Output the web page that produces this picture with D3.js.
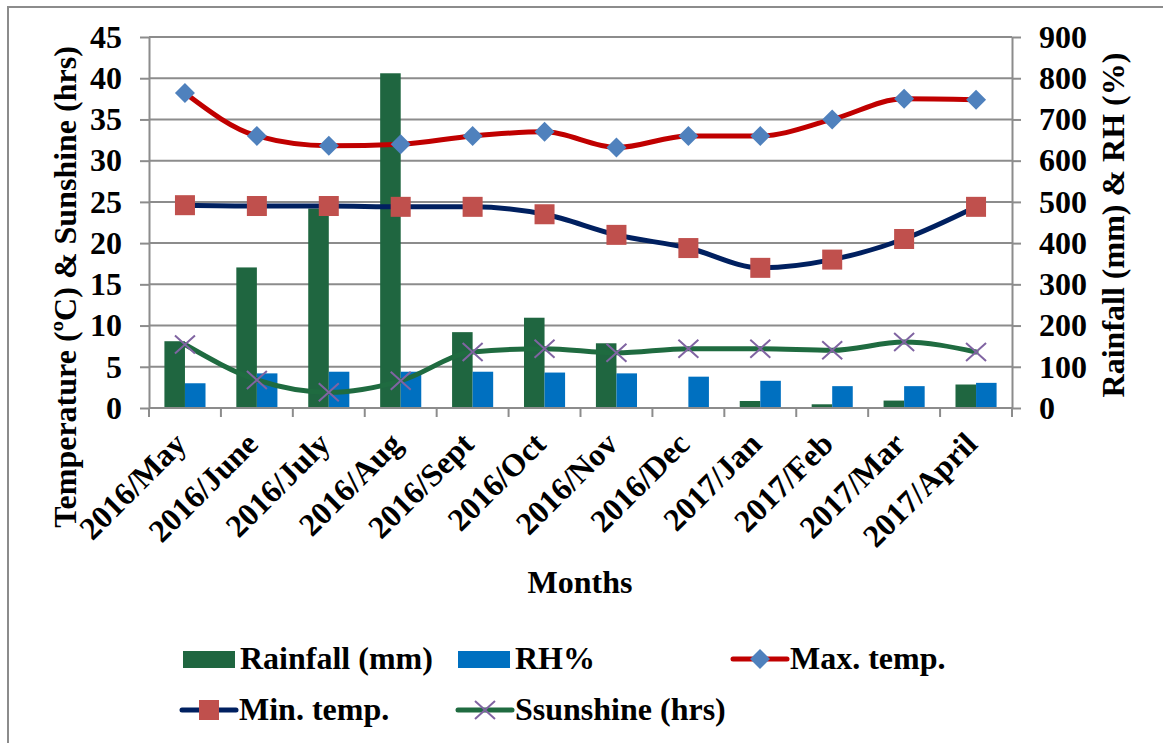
<!DOCTYPE html>
<html>
<head>
<meta charset="utf-8">
<script src="https://cdn.jsdelivr.net/npm/d3@7"></script>
<style>
  html, body { margin: 0; padding: 0; background: #fff; }
  svg { display: block; }
</style>
</head>
<body>
<svg id="chart" width="1163" height="743"></svg>
<script>
// Monthly climate record, May 2016 – April 2017
const months = ["2016/May", "2016/June", "2016/July", "2016/Aug", "2016/Sept", "2016/Oct",
                "2016/Nov", "2016/Dec", "2017/Jan", "2017/Feb", "2017/Mar", "2017/April"];
const rainfall = [162, 341, 484, 812, 184, 219, 157, 0, 17, 9, 18, 57];   // mm (right axis)
const rh       = [60, 84, 88, 88, 88, 86, 84, 76, 66, 53, 53, 61];         // % (right axis)
const maxTemp  = [38.2, 33.0, 31.8, 32.0, 33.0, 33.5, 31.6, 33.0, 33.0, 35.0, 37.5, 37.4]; // °C
const minTemp  = [24.6, 24.5, 24.5, 24.4, 24.4, 23.5, 21.0, 19.4, 17.0, 18.0, 20.5, 24.4]; // °C
const sunshine = [7.7, 3.4, 1.9, 3.3, 6.8, 7.2, 6.7, 7.2, 7.2, 7.0, 8.0, 6.8];             // hrs
const leftTicks  = [0, 5, 10, 15, 20, 25, 30, 35, 40, 45];
const rightTicks = [0, 100, 200, 300, 400, 500, 600, 700, 800, 900];

const FONT = "Liberation Serif";
const FS = 32;
const C = {
  rain: "#1F6640", rh: "#0070C0",
  maxLine: "#C00000", maxMark: "#4F81BD",
  minLine: "#002060", minMark: "#C0504D",
  sunLine: "#1F6B40", sunMark: "#8064A2",
  grid: "#8C8C8C"
};

// bold serif text, set on each text element
const styleText = sel => sel.attr("font-family", FONT).attr("font-weight", "bold")
  .attr("font-size", FS).attr("fill", "#000");

const svg = d3.select("#chart");
const m = { left: 149, right: 1012, top: 37, bottom: 408 };

// outer chart border
svg.append("rect").attr("x", 8).attr("y", 7).attr("width", 1200).attr("height", 800)
  .attr("fill", "none").attr("stroke", "#8C8C8C").attr("stroke-width", 2);

const x = d3.scaleBand().domain(months).range([m.left, m.right]).padding(0);
const yL = d3.scaleLinear().domain([0, 45]).range([m.bottom, m.top]);
const yR = d3.scaleLinear().domain([0, 900]).range([m.bottom, m.top]);
const bw = x.bandwidth() / 3.5;

// horizontal gridlines
svg.append("g").selectAll("line").data(leftTicks.slice(1)).join("line")
  .attr("x1", m.left).attr("x2", m.right)
  .attr("y1", d => yL(d)).attr("y2", d => yL(d))
  .attr("stroke", C.grid).attr("stroke-width", 2);

// bars
const bars = svg.append("g");
bars.selectAll("rect.rain").data(rainfall).join("rect").attr("class", "rain")
  .attr("x", (d, i) => x(months[i]) + x.bandwidth() / 2 - bw)
  .attr("y", d => yR(d)).attr("width", bw).attr("height", d => yR(0) - yR(d))
  .attr("fill", C.rain);
bars.selectAll("rect.rh").data(rh).join("rect").attr("class", "rh")
  .attr("x", (d, i) => x(months[i]) + x.bandwidth() / 2)
  .attr("y", d => yR(d)).attr("width", bw).attr("height", d => yR(0) - yR(d))
  .attr("fill", C.rh);

// axes
const axisStyle = g => {
  g.select(".domain").attr("stroke", C.grid).attr("stroke-width", 2);
  g.selectAll(".tick line").attr("stroke", C.grid).attr("stroke-width", 2);
  g.selectAll(".tick text").call(styleText);
};
svg.append("g").attr("transform", `translate(${m.left},0)`)
  .call(d3.axisLeft(yL).tickValues(leftTicks).tickSize(9).tickPadding(18).tickSizeOuter(0))
  .call(axisStyle);
svg.append("g").attr("transform", `translate(${m.right},0)`)
  .call(d3.axisRight(yR).tickValues(rightTicks).tickSize(9).tickPadding(18).tickSizeOuter(0))
  .call(axisStyle);

// x axis: baseline and boundary ticks
const xg = svg.append("g");
xg.append("line").attr("x1", m.left).attr("x2", m.right).attr("y1", m.bottom).attr("y2", m.bottom)
  .attr("stroke", C.grid).attr("stroke-width", 2);
const bounds = months.map(d => x(d)).concat([m.right]);
xg.selectAll("line.tk").data(bounds).join("line").attr("class", "tk")
  .attr("x1", d => d).attr("x2", d => d).attr("y1", m.bottom).attr("y2", m.bottom + 9)
  .attr("stroke", C.grid).attr("stroke-width", 2);
xg.selectAll("text").data(months).join("text")
  .attr("transform", d => `translate(${x(d) + x.bandwidth() / 2 + 3},${m.bottom + 38}) rotate(-45)`)
  .attr("text-anchor", "end").call(styleText).text(d => d);

// lines with markers
const cx = i => x(months[i]) + x.bandwidth() / 2;
const lineGen = sc => d3.line().x((d, i) => cx(i)).y(d => sc(d)).curve(d3.curveMonotoneX);

function series(data, color) {
  svg.append("path").datum(data).attr("d", lineGen(yL))
    .attr("fill", "none").attr("stroke", color).attr("stroke-width", 5)
    .attr("stroke-linejoin", "round").attr("stroke-linecap", "round");
}

series(maxTemp, C.maxLine);
svg.append("g").selectAll("path").data(maxTemp).join("path")
  .attr("d", d3.symbol(d3.symbolSquare, 200))
  .attr("transform", (d, i) => `translate(${cx(i)},${yL(d)}) rotate(45)`)
  .attr("fill", C.maxMark);

series(minTemp, C.minLine);
svg.append("g").selectAll("rect").data(minTemp).join("rect")
  .attr("x", (d, i) => cx(i) - 10).attr("y", d => yL(d) - 10)
  .attr("width", 20).attr("height", 20).attr("fill", C.minMark);

series(sunshine, C.sunLine);
svg.append("g").selectAll("path").data(sunshine).join("path")
  .attr("d", "M-10,-9L10,9M-10,9L10,-9")
  .attr("transform", (d, i) => `translate(${cx(i)},${yL(d)})`)
  .attr("stroke", C.sunMark).attr("stroke-width", 2).attr("fill", "none");

// axis titles
svg.append("text").attr("transform", "translate(76,287) rotate(-90)")
  .attr("text-anchor", "middle").call(styleText).text("Temperature (ºC) & Sunshine (hrs)");
svg.append("text").attr("transform", "translate(1124,225) rotate(-90)")
  .attr("text-anchor", "middle").call(styleText).text("Rainfall (mm) & RH (%)");
svg.append("text").attr("x", 580).attr("y", 593).attr("text-anchor", "middle")
  .call(styleText).text("Months");

// legend
const lg = svg.append("g");
const legendItems = [
  { label: "Rainfall (mm)", type: "bar", color: C.rain, x: 183, y: 659 },
  { label: "RH%", type: "bar", color: C.rh, x: 458, y: 659 },
  { label: "Max. temp.", type: "line", color: C.maxLine, mark: "diamond", mc: C.maxMark, x: 733, y: 659 },
  { label: "Min. temp.", type: "line", color: C.minLine, mark: "square", mc: C.minMark, x: 182, y: 710 },
  { label: "Ssunshine (hrs)", type: "line", color: C.sunLine, mark: "x", mc: C.sunMark, x: 458, y: 710 }
];
legendItems.forEach(it => {
  const g = lg.append("g").attr("transform", `translate(${it.x},${it.y})`);
  if (it.type === "bar") {
    g.append("rect").attr("x", 0).attr("y", -8).attr("width", 52).attr("height", 17).attr("fill", it.color);
  } else {
    g.append("line").attr("x1", 0).attr("x2", 54).attr("y1", 0).attr("y2", 0)
      .attr("stroke", it.color).attr("stroke-width", 5).attr("stroke-linecap", "round");
    if (it.mark === "diamond") {
      g.append("path").attr("d", d3.symbol(d3.symbolSquare, 200)).attr("transform", "translate(27,0) rotate(45)").attr("fill", it.mc);
    } else if (it.mark === "square") {
      g.append("rect").attr("x", 17).attr("y", -10).attr("width", 20).attr("height", 20).attr("fill", it.mc);
    } else {
      g.append("path").attr("d", "M17,-9L37,9M17,9L37,-9").attr("stroke", it.mc).attr("stroke-width", 2);
    }
  }
  g.append("text").attr("x", 57).attr("y", 10).call(styleText).text(it.label);
});
</script>
</body>
</html>
